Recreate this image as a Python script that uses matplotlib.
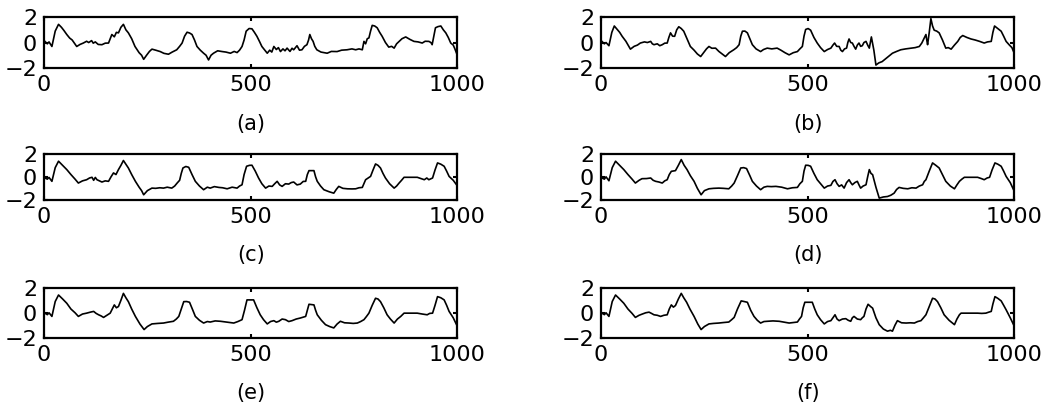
import matplotlib
matplotlib.use("Agg")
import matplotlib.pyplot as plt

trace_a = [(2, 0.09), (8, -0.1), (12, 0.05), (19, -0.31), (27, 0.9), (35, 1.43), (42, 1.2), (48, 0.95),
           (55, 0.63), (62, 0.35), (68, 0.2), (79, -0.31), (87, -0.15), (95, -0.04), (103, 0.1), (108, 0.0),
           (115, 0.15), (119, -0.05), (124, 0.05), (131, -0.15), (140, -0.17), (148, -0.05), (156, -0.04),
           (160, 0.3), (164, 0.63), (170, 0.45), (175, 0.8), (180, 0.76), (186, 1.2), (192, 1.43), (198, 1.0),
           (204, 0.76), (212, 0.3), (220, -0.31), (230, -0.8), (236, -1.0), (241, -1.32), (248, -1.0),
           (255, -0.7), (261, -0.52), (270, -0.6), (281, -0.71), (290, -0.85), (301, -0.92), (310, -0.75),
           (321, -0.57), (328, -0.3), (334, -0.04), (340, 0.5), (346, 0.81), (352, 0.75), (358, 0.63),
           (364, 0.2), (370, -0.31), (378, -0.6), (386, -0.84), (392, -1.0), (398, -1.37), (404, -1.0),
           (410, -0.84), (420, -0.65), (431, -0.71), (440, -0.75), (451, -0.84), (460, -0.7), (467, -0.79),
           (473, -0.6), (479, -0.31), (484, 0.2), (489, 0.89), (496, 1.1), (503, 1.08), (509, 0.8),
           (515, 0.49), (521, 0.1), (527, -0.31), (533, -0.55), (540, -0.84), (546, -0.6), (551, -0.75),
           (556, -0.31), (562, -0.55), (567, -0.4), (572, -0.71), (578, -0.5), (583, -0.65), (588, -0.44),
           (595, -0.7), (600, -0.45), (604, -0.57), (612, -0.25), (618, -0.6), (624, -0.57), (630, -0.3),
           (636, -0.17), (640, 0.2), (643, 0.63), (647, 0.3), (651, 0.09), (655, -0.3), (660, -0.57),
           (670, -0.75), (685, -0.84), (695, -0.7), (709, -0.71), (720, -0.6), (733, -0.57), (745, -0.5),
           (754, -0.57), (762, -0.5), (770, -0.57), (774, 0.09), (778, -0.1), (782, 0.3), (786, 0.36),
           (790, 0.9), (794, 1.35), (800, 1.3), (806, 1.16), (812, 0.8), (818, 0.49), (826, 0.0),
           (834, -0.36), (841, -0.3), (847, -0.44), (853, -0.1), (859, 0.09), (866, 0.3), (875, 0.44),
           (885, 0.25), (895, 0.09), (905, 0.05), (915, -0.04), (922, 0.1), (931, 0.09), (936, 0.0),
           (939, -0.17), (943, 0.5), (947, 1.16), (953, 1.25), (960, 1.3), (966, 1.0), (972, 0.76),
           (978, 0.4), (984, -0.04), (990, -0.2), (994, -0.5), (998, -0.84)]

trace_b = [(2, 0.09), (8, -0.1), (12, 0.0), (19, -0.25), (26, 0.8), (32, 1.3), (40, 1.0), (45, 0.8),
           (51, 0.49), (60, 0.1), (71, -0.52), (80, -0.3), (88, -0.2), (95, -0.04), (105, 0.05), (112, 0.0),
           (120, 0.09), (124, -0.1), (128, -0.17), (136, -0.1), (142, -0.25), (148, -0.17), (154, -0.05),
           (160, -0.04), (164, 0.4), (168, 0.76), (173, 0.5), (178, 0.49), (183, 1.0), (188, 1.24),
           (194, 1.1), (200, 0.89), (208, 0.3), (216, -0.31), (225, -0.6), (233, -0.9), (241, -1.1),
           (248, -0.8), (255, -0.5), (261, -0.31), (268, -0.45), (277, -0.44), (285, -0.7), (293, -0.9),
           (301, -1.1), (310, -0.8), (321, -0.57), (328, -0.4), (334, -0.17), (338, 0.5), (342, 0.89),
           (348, 0.9), (354, 0.76), (360, 0.3), (366, -0.17), (375, -0.5), (386, -0.71), (393, -0.55),
           (402, -0.44), (413, -0.5), (426, -0.44), (435, -0.6), (445, -0.8), (455, -0.97), (465, -0.8),
           (475, -0.71), (481, -0.5), (487, -0.31), (491, 0.5), (495, 1.03), (501, 1.1), (507, 0.97),
           (515, 0.4), (523, -0.04), (531, -0.4), (540, -0.71), (548, -0.55), (556, -0.44), (561, -0.2),
           (565, -0.04), (570, -0.3), (576, -0.31), (580, -0.6), (584, -0.71), (589, -0.5), (594, -0.44),
           (597, 0.0), (600, 0.28), (604, 0.0), (608, -0.04), (612, -0.3), (616, -0.52), (620, -0.2),
           (624, -0.04), (628, -0.3), (632, -0.25), (636, 0.0), (641, 0.09), (645, -0.2), (649, -0.44),
           (652, 0.1), (654, 0.44), (660, -0.6), (665, -1.77), (672, -1.6), (680, -1.5), (685, -1.37),
           (695, -1.1), (705, -0.84), (715, -0.7), (725, -0.57), (737, -0.5), (750, -0.44), (760, -0.4),
           (770, -0.31), (776, -0.04), (781, 0.3), (786, 0.63), (788, 0.2), (790, -0.17), (794, 0.8),
           (798, 1.88), (802, 1.3), (806, 0.97), (812, 0.9), (818, 0.76), (826, 0.2), (834, -0.44),
           (840, -0.4), (847, -0.52), (855, -0.2), (863, 0.09), (869, 0.4), (875, 0.55), (885, 0.4),
           (895, 0.28), (905, 0.2), (915, 0.1), (927, -0.04), (935, 0.05), (944, 0.09), (948, 0.8),
           (952, 1.3), (960, 1.1), (968, 0.89), (974, 0.5), (980, 0.09), (988, -0.2), (994, -0.4),
           (998, -0.71)]

trace_c = [(2, -0.1), (8, -0.2), (12, -0.05), (19, -0.39), (27, 0.8), (35, 1.36), (45, 1.0), (55, 0.63),
           (65, 0.2), (75, -0.2), (83, -0.54), (93, -0.35), (103, -0.25), (110, -0.1), (116, -0.04),
           (120, -0.3), (124, -0.05), (128, -0.25), (134, -0.35), (140, -0.45), (148, -0.35), (156, -0.39),
           (162, 0.0), (168, 0.34), (174, 0.2), (180, 0.63), (186, 1.0), (192, 1.42), (198, 1.1), (204, 0.77),
           (212, 0.2), (221, -0.39), (230, -0.9), (236, -1.2), (241, -1.56), (250, -1.2), (261, -0.98),
           (270, -1.0), (280, -0.95), (289, -0.98), (298, -0.9), (309, -0.98), (316, -0.8), (322, -0.54),
           (328, -0.3), (332, 0.3), (336, 0.77), (343, 0.9), (350, 0.83), (358, 0.2), (366, -0.39),
           (376, -0.8), (386, -1.12), (395, -0.9), (402, -0.98), (412, -0.85), (423, -0.92), (432, -0.95),
           (443, -1.04), (455, -0.9), (467, -0.98), (473, -0.8), (479, -0.69), (484, 0.2), (490, 0.92),
           (497, 1.0), (503, 1.01), (511, 0.5), (519, -0.1), (527, -0.6), (536, -0.98), (544, -0.8),
           (552, -0.83), (558, -0.6), (564, -0.39), (570, -0.7), (576, -0.83), (584, -0.6), (592, -0.63),
           (598, -0.5), (604, -0.45), (612, -0.7), (620, -0.63), (627, -0.4), (633, -0.39), (637, 0.2),
           (641, 0.54), (653, 0.54), (657, 0.0), (661, -0.39), (669, -0.8), (677, -1.12), (690, -1.3),
           (701, -1.42), (707, -1.1), (713, -0.83), (723, -1.0), (734, -1.04), (745, -1.05), (754, -1.04),
           (762, -0.95), (770, -0.92), (778, -0.25), (784, -0.1), (790, 0.04), (796, 0.6), (802, 1.12),
           (808, 1.0), (814, 0.77), (820, 0.3), (826, -0.1), (836, -0.6), (847, -0.98), (853, -0.8),
           (859, -0.54), (865, -0.3), (871, -0.04), (903, -0.04), (912, -0.15), (920, -0.25), (926, -0.1),
           (931, -0.25), (940, -0.1), (946, 0.6), (952, 1.21), (960, 1.1), (968, 0.92), (974, 0.5),
           (980, 0.04), (990, -0.3), (998, -0.69)]

trace_d = [(2, -0.1), (8, -0.2), (12, 0.0), (19, -0.34), (27, 0.8), (35, 1.36), (45, 1.0), (55, 0.63),
           (65, 0.2), (75, -0.2), (83, -0.54), (92, -0.3), (99, -0.16), (110, -0.15), (120, -0.1),
           (126, -0.3), (132, -0.39), (140, -0.45), (148, -0.54), (154, -0.35), (160, -0.25), (165, 0.2),
           (170, 0.48), (180, 0.54), (187, 1.0), (194, 1.5), (201, 1.0), (208, 0.63), (216, 0.1),
           (225, -0.39), (233, -1.0), (242, -1.56), (250, -1.2), (261, -1.04), (272, -1.0), (285, -0.98),
           (296, -1.0), (309, -1.04), (316, -0.8), (322, -0.54), (330, 0.1), (338, 0.77), (345, 0.8),
           (352, 0.72), (360, 0.1), (366, -0.39), (376, -0.8), (386, -1.12), (394, -0.9), (402, -0.83),
           (412, -0.85), (423, -0.83), (437, -0.9), (451, -1.04), (463, -0.95), (475, -0.92), (481, -0.6),
           (487, -0.39), (491, 0.5), (495, 1.01), (501, 1.0), (507, 0.92), (515, 0.3), (523, -0.25),
           (531, -0.6), (540, -0.98), (548, -0.8), (556, -0.74), (561, -0.4), (566, -0.25), (571, -0.6),
           (576, -0.83), (582, -0.7), (588, -0.98), (594, -0.5), (600, -0.25), (604, -0.5), (608, -0.69),
           (614, -0.5), (620, -0.39), (624, -0.7), (628, -0.98), (634, -0.8), (641, -0.69), (645, 0.0),
           (649, 0.63), (653, 0.3), (657, 0.19), (665, -0.9), (673, -1.85), (683, -1.75), (693, -1.71),
           (701, -1.6), (709, -1.42), (715, -1.1), (721, -0.92), (731, -1.0), (742, -1.04), (752, -0.95),
           (762, -0.98), (770, -0.8), (778, -0.69), (782, -0.4), (786, -0.25), (794, 0.5), (802, 1.21),
           (810, 1.0), (818, 0.77), (826, 0.2), (834, -0.39), (845, -0.8), (855, -1.04), (861, -0.7),
           (867, -0.39), (873, -0.2), (879, -0.04), (911, -0.04), (920, -0.15), (927, -0.25), (934, -0.1),
           (940, -0.04), (946, 0.6), (953, 1.21), (960, 1.1), (968, 0.92), (974, 0.5), (980, 0.04),
           (990, -0.5), (998, -1.12)]

trace_e = [(2, -0.03), (8, -0.15), (12, 0.0), (19, -0.29), (27, 0.9), (35, 1.42), (45, 1.1), (55, 0.76),
           (65, 0.3), (75, 0.0), (83, -0.29), (93, -0.1), (103, -0.03), (112, 0.05), (120, 0.11),
           (126, -0.05), (132, -0.16), (138, -0.25), (144, -0.37), (152, -0.2), (160, -0.03), (165, 0.3),
           (170, 0.63), (175, 0.4), (180, 0.5), (186, 1.0), (192, 1.55), (198, 1.2), (204, 0.89),
           (212, 0.3), (221, -0.29), (232, -0.9), (242, -1.34), (250, -1.1), (261, -0.89), (275, -0.85),
           (289, -0.82), (300, -0.75), (313, -0.68), (320, -0.5), (326, -0.29), (332, 0.3), (338, 0.89),
           (345, 0.9), (352, 0.84), (360, 0.2), (366, -0.29), (376, -0.6), (386, -0.82), (395, -0.7),
           (402, -0.74), (414, -0.65), (427, -0.68), (443, -0.75), (459, -0.82), (469, -0.7), (479, -0.55),
           (485, 0.2), (491, 1.03), (507, 1.03), (515, 0.4), (523, -0.16), (531, -0.55), (540, -0.89),
           (548, -0.7), (556, -0.63), (562, -0.75), (568, -0.68), (576, -0.5), (584, -0.55), (592, -0.7),
           (600, -0.63), (610, -0.5), (620, -0.42), (627, -0.35), (633, -0.29), (637, 0.2), (641, 0.68),
           (653, 0.63), (657, 0.2), (661, -0.16), (671, -0.6), (681, -0.95), (691, -1.1), (701, -1.21),
           (709, -0.9), (717, -0.68), (727, -0.8), (738, -0.82), (748, -0.85), (758, -0.82), (766, -0.7),
           (774, -0.55), (780, -0.3), (786, -0.03), (794, 0.6), (802, 1.16), (808, 1.1), (814, 0.89),
           (822, 0.4), (830, -0.16), (838, -0.5), (847, -0.82), (855, -0.5), (863, -0.29), (871, -0.03),
           (903, -0.03), (915, -0.1), (927, -0.16), (933, -0.05), (940, -0.03), (946, 0.6), (952, 1.29),
           (960, 1.2), (968, 1.03), (974, 0.6), (980, 0.11), (990, -0.4), (998, -0.95)]

trace_f = [(2, -0.03), (8, -0.15), (12, 0.0), (19, -0.29), (27, 0.9), (35, 1.42), (45, 1.1), (55, 0.76),
           (65, 0.3), (75, -0.05), (83, -0.37), (92, -0.2), (99, -0.11), (108, 0.0), (116, 0.05),
           (122, -0.05), (128, -0.16), (136, -0.2), (144, -0.29), (152, -0.2), (160, -0.16), (165, 0.3),
           (170, 0.63), (175, 0.45), (180, 0.58), (187, 1.1), (194, 1.55), (200, 1.2), (207, 0.84),
           (215, 0.3), (225, -0.29), (234, -0.9), (242, -1.34), (250, -1.1), (261, -0.89), (272, -0.85),
           (285, -0.82), (296, -0.78), (309, -0.74), (316, -0.55), (322, -0.37), (330, 0.3), (339, 0.95),
           (346, 0.9), (354, 0.84), (362, 0.2), (370, -0.29), (378, -0.6), (386, -0.82), (394, -0.7),
           (402, -0.68), (416, -0.65), (431, -0.68), (443, -0.75), (455, -0.82), (465, -0.78), (475, -0.74),
           (480, -0.5), (485, -0.29), (489, 0.4), (493, 0.84), (511, 0.84), (517, 0.3), (523, -0.16),
           (531, -0.55), (540, -0.89), (548, -0.7), (556, -0.63), (561, -0.4), (566, -0.16), (571, -0.5),
           (576, -0.63), (584, -0.5), (592, -0.47), (598, -0.6), (604, -0.68), (608, -0.4), (612, -0.29),
           (620, -0.5), (628, -0.55), (632, -0.4), (636, -0.29), (641, 0.3), (646, 0.68), (652, 0.5),
           (657, 0.37), (665, -0.4), (673, -0.95), (683, -1.3), (693, -1.47), (700, -1.4), (705, -1.47),
           (711, -1.0), (717, -0.63), (727, -0.8), (738, -0.82), (748, -0.8), (758, -0.82), (766, -0.7),
           (774, -0.63), (780, -0.4), (786, -0.16), (794, 0.5), (802, 1.16), (808, 1.1), (814, 0.89),
           (822, 0.4), (830, -0.16), (842, -0.6), (855, -0.95), (861, -0.5), (867, -0.16), (871, -0.03),
           (911, -0.03), (921, -0.05), (931, -0.03), (938, 0.05), (944, 0.11), (948, 0.7), (953, 1.29),
           (960, 1.15), (968, 0.95), (974, 0.6), (980, 0.24), (990, -0.4), (998, -0.95)]

panel_labels = ["(a)", "(b)", "(c)", "(d)", "(e)", "(f)"]
x_ticks = [0, 500, 1000]
y_ticks = [-2, 0, 2]

traces = [trace_a, trace_b, trace_c, trace_d, trace_e, trace_f]

fig = plt.figure(figsize=(10.49, 4.07), dpi=100)

# axes boxes in figure fractions
lefts = [0.042, 0.573]
rows = [(0.833, 0.125), (0.509, 0.113), (0.170, 0.123)]

for i, tr in enumerate(traces):
    xs = [p[0] for p in tr]
    ys = [p[1] for p in tr]
    bottom, height = rows[i // 2]
    ax = fig.add_axes([lefts[i % 2], bottom, 0.394, height])
    ax.plot(xs, ys, color="black", lw=1.2)
    ax.set_xlim(0, 1000)
    ax.set_ylim(-2, 2)
    ax.set_xticks(x_ticks)
    ax.set_yticks(y_ticks)
    ax.tick_params(direction="in", length=3, width=1.5, top=True, right=True,
                   labelsize=16, colors="black", pad=5)
    for sp in ax.spines.values():
        sp.set_linewidth(1.6)
    ax.annotate(panel_labels[i], (0.5, 0), xycoords="axes fraction",
                xytext=(0, -40), textcoords="offset points",
                ha="center", va="center", fontsize=15)

fig.savefig("out.png", dpi=100)
